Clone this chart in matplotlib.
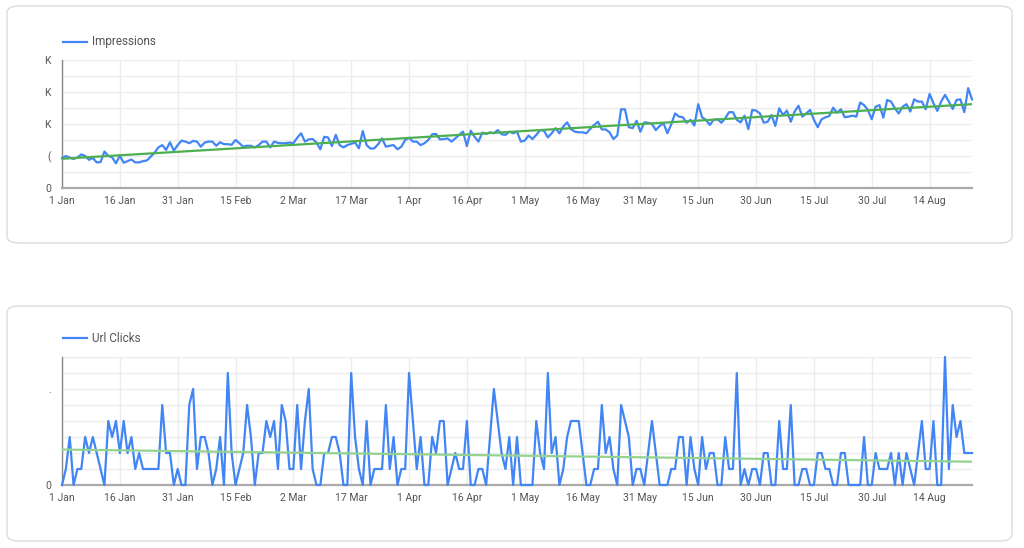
import numpy as np
import matplotlib
matplotlib.use('Agg')
import matplotlib.pyplot as plt
from matplotlib.patches import FancyBboxPatch
from matplotlib.lines import Line2D

plt.rcParams['font.family'] = ['Roboto', 'DejaVu Sans']

# daily values, 1 Jan .. 25 Aug
impressions = [
    930, 1000, 950, 910, 950, 1050, 1000, 880, 940, 800,
    810, 1140, 1000, 960, 770, 1010, 790, 840, 890, 800,
    800, 840, 860, 980, 1100, 1270, 1340, 1190, 1430, 1170,
    1340, 1480, 1450, 1400, 1470, 1450, 1290, 1420, 1450, 1450,
    1320, 1430, 1370, 1370, 1350, 1500, 1400, 1290, 1320, 1320,
    1270, 1340, 1450, 1450, 1270, 1450, 1410, 1400, 1400,
    1420, 1400, 1570, 1710, 1450, 1520, 1530, 1420, 1210, 1600,
    1580, 1310, 1660, 1340, 1270, 1340, 1380, 1420, 1240, 1780,
    1340, 1230, 1240, 1370, 1550, 1290, 1320, 1340, 1210, 1290,
    1500, 1570, 1450, 1450, 1340, 1400, 1500, 1680, 1690, 1520,
    1530, 1550, 1450, 1550, 1660, 1760, 1310, 1790, 1600, 1450,
    1730, 1690, 1740, 1710, 1810, 1680, 1660, 1760, 1710, 1760,
    1450, 1480,
    1640, 1530, 1660, 1810, 1790, 1580, 1710, 1870, 1710, 1920,
    2050, 1840, 1760, 1740, 1740, 1710, 1850, 1970, 2070, 1830,
    1830, 1740, 1530, 1640, 2460, 2460, 1900, 1870, 2100, 1760,
    2050, 2040, 2000, 1810, 1940, 2020, 1710, 1990, 2330, 2230,
    2210, 2040, 2130, 1950, 2620, 2210, 2130, 1970, 2130, 2150,
    2040, 2180, 2370, 2370, 2130, 2050, 2260, 1840, 2440, 2420,
    2330, 2040, 2070, 2280, 1940, 2490, 2280, 2420, 2070, 2390,
    2570, 2230, 2330, 2440, 2130, 1900, 2150, 2210, 2250, 2510,
    2350, 2460, 2210, 2230, 2260, 2230, 2670, 2590, 2440, 2150,
    2540, 2590, 2200, 2750, 2700, 2490, 2330, 2540, 2620, 2390,
    2770, 2700, 2700, 2460, 2940, 2650, 2410, 2700, 2910, 2700,
    2470, 2750, 2770, 2370, 3120, 2770,
]

url_clicks = [
    0, 1, 3, 0, 1, 1, 3, 2, 3, 2, 1, 0, 4, 3, 4, 2, 4, 2, 3, 1,
    2, 1, 1, 1, 1, 1, 5, 2, 2, 0, 1, 0, 0, 5, 6, 1, 3, 3, 2, 0,
    1, 3, 0, 7, 2, 0, 1, 2, 5, 3, 0, 2, 2, 4, 3, 4, 1, 5, 4, 1,
    1,
    5, 1, 4, 6, 1, 0, 0, 2, 2, 3, 3, 2, 0, 0, 7, 3, 1, 0, 4, 0,
    1, 1, 1, 5, 1, 3, 0, 1, 1, 7, 4, 1, 3, 0, 0, 3, 2, 4, 4, 0,
    1, 2, 1, 1, 4, 0, 0, 1, 1, 0, 3, 6, 4, 2, 1, 3, 0, 3, 0, 0,
    0, 0, 4, 2, 1, 7, 2, 3, 0, 1, 3, 4, 4, 4, 2, 0, 0, 1, 1, 5,
    2, 3, 1, 0, 5, 4, 3, 0, 1, 1, 0, 2, 4, 2, 0, 0, 0, 1, 1, 3,
    3, 0, 3, 1, 0, 3, 1, 2, 2, 0, 0, 3, 1, 1, 7, 0, 1, 0, 1, 1,
    0, 2, 2, 0, 0, 4, 1, 1, 5, 0, 0, 1, 1, 0, 0, 2, 2, 1, 1, 0,
    0, 2, 2, 0, 0, 0, 0, 3, 0, 0, 2, 1, 1, 1, 2, 0, 2, 0, 2, 1,
    0, 2, 4, 1, 1, 4, 0, 0, 8, 1, 5, 3, 4, 2, 2, 2,
]

x_tick_labels = ['1 Jan', '16 Jan', '31 Jan', '15 Feb', '2 Mar', '17 Mar',
                 '1 Apr', '16 Apr', '1 May', '16 May', '31 May', '15 Jun',
                 '30 Jun', '15 Jul', '30 Jul', '14 Aug']
imp_ticks = [0, 1000, 2000, 3000, 4000]
imp_tick_labels = ['0', '(', 'K', 'K', 'K']
clk_ticks = [0, 6]
clk_tick_labels = ['0', '.']

BLUE = '#4285f4'
W, H = 1024, 548

fig = plt.figure(figsize=(W / 100, H / 100), dpi=100)

# cards, kept behind the axes
for top, bot in [(6, 243), (306, 541)]:
    card = FancyBboxPatch((7 / W, 1 - bot / H), 1005 / W, (bot - top) / H,
                          boxstyle='round,pad=0,rounding_size=0.012',
                          transform=fig.transFigure, facecolor='white',
                          edgecolor='#dadce0', linewidth=1.0, zorder=-10)
    fig.patches.append(card)


def draw_panel(ax, values, ymax, yticks, ylabels, trend_color, grid_step):
    x = np.arange(len(values))
    ax.patch.set_alpha(0)
    ax.set_xlim(0, len(values) - 1)
    ax.set_ylim(0, ymax)
    ax.set_yticks(np.arange(0, ymax + grid_step / 2, grid_step), minor=True)
    ax.set_yticks(yticks)
    ax.set_yticklabels(ylabels)
    ax.set_xticks(x[::15][:len(x_tick_labels)])
    ax.set_xticklabels(x_tick_labels)
    ax.grid(True, which='both', color='#ececec', linewidth=1.0)
    ax.set_axisbelow(True)
    ax.tick_params(which='both', length=0, labelsize=7.5, colors='#555555')
    ax.tick_params(axis='y', pad=8)
    ax.tick_params(axis='x', pad=6)
    for s in ['top', 'right']:
        ax.spines[s].set_visible(False)
    ax.spines['left'].set_color('#888888')
    ax.spines['left'].set_linewidth(1.0)
    ax.spines['bottom'].set_color('#aaaaaa')
    ax.spines['bottom'].set_linewidth(1.6)

    ax.plot(x, values, color=BLUE, linewidth=1.6, zorder=3, clip_on=False)
    k, b = np.polyfit(x, values, 1)
    ax.plot(x, k * x + b, color=trend_color, linewidth=1.6, zorder=4)


ax1 = fig.add_axes([62 / W, 1 - 188 / H, 910 / W, 128 / H])
draw_panel(ax1, impressions, 4000, imp_ticks, imp_tick_labels, '#4caf50', 500)
ax2 = fig.add_axes([62 / W, 1 - 485 / H, 910 / W, 128 / H])
draw_panel(ax2, url_clicks, 8, clk_ticks, clk_tick_labels, '#93d38f', 1)

# legends
for ly, label in [(42, 'Impressions'), (338, 'Url Clicks')]:
    fig.add_artist(Line2D([63 / W, 87 / W], [1 - ly / H, 1 - ly / H],
                          color=BLUE, linewidth=1.6, transform=fig.transFigure))
    fig.text(92 / W, 1 - ly / H, label, fontsize=8.5, color='#555555',
             va='center', ha='left')

fig.savefig('out.png', dpi=100, facecolor='white')
